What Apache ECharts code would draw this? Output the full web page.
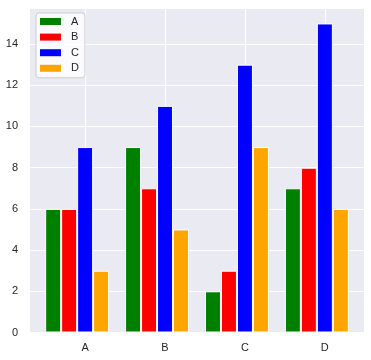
<!DOCTYPE html>
<html>
<head>
<meta charset="utf-8">
<script src="https://cdn.jsdelivr.net/npm/echarts@6/dist/echarts.min.js"></script>
<style>html,body{margin:0;padding:0;background:#fff}#c{width:371px;height:360px}</style>
</head>
<body>
<div id="c"></div>
<script>
const categories = ['A', 'B', 'C', 'D'];
const seriesNames = ['A', 'B', 'C', 'D'];
const valuesA = [6, 9, 2, 7];
const valuesB = [6, 7, 3, 8];
const valuesC = [9, 11, 13, 15];
const valuesD = [3, 5, 9, 6];
const yTicks = [0, 2, 4, 6, 8, 10, 12, 14];

const allValues = [valuesA, valuesB, valuesC, valuesD];
const colors = ['#008000', '#ff0000', '#0000ff', '#ffa500'];
const barW = 0.2;
const tickPos = categories.map((c, i) => i);

const chart = echarts.init(document.getElementById('c'), null, {renderer: 'canvas'});
const font = '"Liberation Sans", Arial, sans-serif';

const series = allValues.map((vals, k) => ({
  name: seriesNames[k],
  type: 'bar',
  barWidth: 16,
  barGap: '-100%',
  itemStyle: {color: colors[k], borderColor: '#ffffff', borderWidth: 1},
  data: vals.map((v, i) => [i + (k - 2) * barW, v])
}));

chart.setOption({
  animation: false,
  backgroundColor: '#ffffff',
  grid: {left: 30, top: 8, right: 7, bottom: 27.5, show: true, backgroundColor: '#eaeaf2', borderWidth: 0},
  legend: {
    left: 36, top: 13, orient: 'vertical',
    itemWidth: 21, itemHeight: 7, itemGap: 4.6,
    padding: [3, 6, 4, 4],
    backgroundColor: 'rgba(255,255,255,0.8)', borderColor: '#cccccc', borderWidth: 1, borderRadius: 3,
    icon: 'rect',
    itemStyle: {borderWidth: 0},
    textStyle: {fontFamily: font, fontSize: 11, color: '#262626', lineHeight: 11, padding: [0, 0, 0, 5]},
    data: seriesNames
  },
  xAxis: {
    type: 'value', min: -0.69, max: 3.49,
    axisLine: {show: false},
    axisTick: {show: false, customValues: tickPos},
    splitLine: {show: true, customValues: tickPos, lineStyle: {color: '#ffffff', width: 1}},
    axisLabel: {
      customValues: tickPos, margin: 10,
      formatter: v => categories[Math.round(v)] || '',
      fontFamily: font, fontSize: 11, color: '#262626'
    }
  },
  yAxis: {
    type: 'value', min: 0, max: 15.75, interval: 2,
    axisLine: {show: false}, axisTick: {show: false},
    splitLine: {show: true, lineStyle: {color: '#ffffff', width: 1}},
    axisLabel: {
      margin: 12, fontFamily: font, fontSize: 11, color: '#262626',
      formatter: v => (yTicks.indexOf(v) >= 0 ? String(v) : '')
    }
  },
  series: series
});
</script>
</body>
</html>
